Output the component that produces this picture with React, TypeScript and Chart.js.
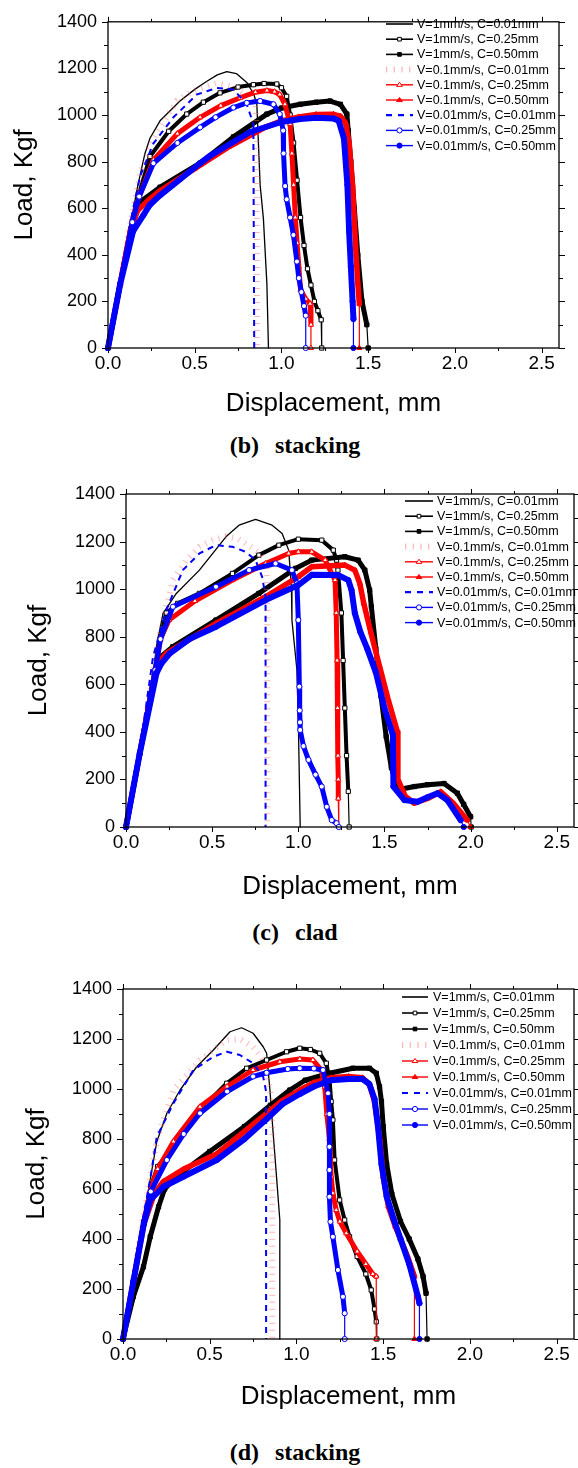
import React, { useEffect, useRef } from 'react';
import { Chart, registerables } from 'chart.js';

Chart.register(...registerables);

type Pt = [number, number];

const SERIES_LABELS = [
  'V=1mm/s, C=0.01mm',
  'V=1mm/s, C=0.25mm',
  'V=1mm/s, C=0.50mm',
  'V=0.1mm/s, C=0.01mm',
  'V=0.1mm/s, C=0.25mm',
  'V=0.1mm/s, C=0.50mm',
  'V=0.01mm/s, C=0.01mm',
  'V=0.01mm/s, C=0.25mm',
  'V=0.01mm/s, C=0.50mm',
];
const X_TICK_VALUES = [0, 0.5, 1, 1.5, 2, 2.5];
const Y_TICK_VALUES = [0, 200, 400, 600, 800, 1000, 1200, 1400];
const X_MAX = 2.6;
const Y_MAX = 1400;
const X_TITLE = 'Displacement, mm';
const Y_TITLE = 'Load, Kgf';

// ---------- panel (b) stacking ----------
const B_S1: Pt[] = [[0,0],[0.07,280],[0.137,560],[0.17,690],[0.213,835],[0.242,900],[0.3,975],[0.415,1060],[0.5,1110],[0.57,1145],[0.63,1172],[0.685,1186],[0.74,1178],[0.8,1140],[0.84,1090],[0.858,1046],[0.866,900],[0.877,700],[0.896,554],[0.916,274],[0.925,0]];
const B_S2: Pt[] = [[0,0],[0.07,275],[0.14,545],[0.18,665],[0.242,822],[0.35,930],[0.454,1004],[0.55,1055],[0.646,1095],[0.75,1120],[0.838,1130],[0.9,1135],[0.973,1133],[1.0,1117],[1.03,1080],[1.05,1000],[1.07,880],[1.09,720],[1.11,560],[1.13,440],[1.15,340],[1.17,270],[1.19,200],[1.21,160],[1.229,121],[1.232,0]];
const B_S3: Pt[] = [[0,0],[0.07,275],[0.13,510],[0.16,590],[0.2,635],[0.3,690],[0.53,793],[0.723,906],[0.916,1004],[1.0,1030],[1.108,1046],[1.2,1055],[1.28,1060],[1.34,1046],[1.377,1004],[1.385,933],[1.4,800],[1.42,600],[1.44,400],[1.464,202],[1.492,100],[1.5,0]];
const B_S4: Pt[] = [[0,0],[0.07,280],[0.14,580],[0.185,750],[0.26,895],[0.4,1063],[0.5,1105],[0.627,1137],[0.7,1125],[0.8,1088],[0.85,1040],[0.858,900],[0.858,0]];
const B_S5: Pt[] = [[0,0],[0.07,275],[0.14,545],[0.18,650],[0.262,807],[0.4,920],[0.531,990],[0.65,1040],[0.762,1074],[0.85,1098],[0.916,1105],[0.96,1100],[0.99,1088],[1.02,1046],[1.05,962],[1.06,835],[1.07,700],[1.08,560],[1.09,450],[1.1,350],[1.11,250],[1.14,210],[1.165,190],[1.17,100],[1.17,0]];
const B_S6: Pt[] = [[0,0],[0.07,275],[0.13,505],[0.17,590],[0.242,640],[0.3,675],[0.5,770],[0.7,865],[0.9,945],[1.0,975],[1.1,992],[1.2,1002],[1.3,1003],[1.34,995],[1.37,965],[1.39,880],[1.41,700],[1.42,550],[1.43,400],[1.44,280],[1.449,190],[1.449,0]];
const B_S7: Pt[] = [[0,0],[0.07,280],[0.14,580],[0.185,737],[0.261,877],[0.377,990],[0.512,1088],[0.627,1116],[0.723,1109],[0.8,1046],[0.838,962],[0.843,0]];
const B_S8: Pt[] = [[0,0],[0.07,273],[0.14,540],[0.18,650],[0.262,793],[0.4,880],[0.531,947],[0.62,990],[0.723,1032],[0.8,1052],[0.877,1060],[0.954,1046],[0.99,1004],[1.01,933],[1.012,835],[1.021,695],[1.03,638],[1.05,560],[1.069,485],[1.089,371],[1.1,300],[1.115,240],[1.13,180],[1.14,139],[1.14,0]];
const B_S9: Pt[] = [[0,0],[0.07,273],[0.144,500],[0.204,570],[0.242,615],[0.3,655],[0.531,793],[0.589,825],[0.819,927],[1.0,970],[1.108,983],[1.2,988],[1.3,985],[1.33,975],[1.36,900],[1.38,700],[1.39,500],[1.4,350],[1.41,200],[1.415,125],[1.415,0]];

// ---------- panel (c) clad ----------
const C_S1: Pt[] = [[0,0],[0.08,310],[0.15,600],[0.177,760],[0.215,898],[0.292,982],[0.426,1080],[0.58,1220],[0.656,1269],[0.752,1293],[0.848,1269],[0.906,1234],[0.944,1164],[0.96,1010],[0.963,870],[0.992,660],[1.0,450],[1.011,0]];
const C_S2: Pt[] = [[0,0],[0.08,310],[0.17,660],[0.2,800],[0.234,900],[0.3,940],[0.426,982],[0.618,1066],[0.771,1143],[0.887,1185],[1.0,1210],[1.136,1206],[1.203,1164],[1.222,1122],[1.23,1080],[1.25,900],[1.26,700],[1.27,500],[1.28,300],[1.29,150],[1.295,0]];
const C_S3: Pt[] = [[0,0],[0.08,310],[0.17,660],[0.2,715],[0.272,758],[0.522,870],[0.771,982],[0.983,1087],[1.078,1122],[1.27,1136],[1.347,1122],[1.386,1080],[1.414,996],[1.424,926],[1.45,750],[1.48,550],[1.51,380],[1.54,250],[1.57,180],[1.6,160],[1.674,170],[1.75,178],[1.846,183],[1.923,142],[1.96,95],[2.0,43],[2.003,0]];
const C_S4: Pt[] = [[0,0],[0.08,320],[0.15,620],[0.2,820],[0.272,1038],[0.35,1120],[0.426,1178],[0.5,1205],[0.58,1222],[0.65,1212],[0.72,1180],[0.78,1150],[0.815,1100],[0.82,900],[0.82,0]];
const C_S5: Pt[] = [[0,0],[0.08,310],[0.17,660],[0.2,790],[0.25,870],[0.4,950],[0.618,1038],[0.81,1108],[0.944,1150],[1.0,1157],[1.078,1157],[1.156,1122],[1.194,1066],[1.213,1038],[1.22,900],[1.225,700],[1.228,500],[1.23,300],[1.232,200],[1.232,120],[1.235,0]];
const C_S6: Pt[] = [[0,0],[0.08,310],[0.17,655],[0.2,700],[0.234,730],[0.522,856],[0.81,968],[1.0,1052],[1.078,1094],[1.27,1101],[1.328,1080],[1.357,1024],[1.38,940],[1.42,820],[1.47,680],[1.52,540],[1.575,400],[1.578,200],[1.62,130],[1.674,100],[1.75,120],[1.827,148],[1.9,100],[1.98,29],[2.0,0]];
const C_S7: Pt[] = [[0,0],[0.08,320],[0.157,716],[0.234,912],[0.33,1080],[0.426,1150],[0.522,1185],[0.618,1178],[0.695,1157],[0.752,1122],[0.79,1052],[0.81,968],[0.81,0]];
const C_S8: Pt[] = [[0,0],[0.08,310],[0.17,660],[0.2,790],[0.272,926],[0.522,1010],[0.714,1080],[0.868,1108],[0.963,1080],[0.992,1024],[1.0,870],[1.006,590],[1.008,490],[1.01,440],[1.011,408],[1.03,340],[1.059,282],[1.1,220],[1.136,170],[1.165,85],[1.194,29],[1.222,16],[1.235,0]];
const C_S9: Pt[] = [[0,0],[0.08,310],[0.177,647],[0.205,687],[0.253,729],[0.368,790],[0.522,842],[0.81,954],[1.0,1017],[1.078,1060],[1.232,1059],[1.29,1038],[1.309,996],[1.328,899],[1.36,820],[1.4,750],[1.45,650],[1.5,500],[1.549,387],[1.552,170],[1.616,113],[1.692,106],[1.75,125],[1.808,142],[1.865,113],[1.942,29],[1.96,0]];

// ---------- panel (d) stacking ----------
const D_S1: Pt[] = [[0,0],[0.06,240],[0.12,490],[0.16,650],[0.195,790],[0.253,903],[0.329,996],[0.425,1089],[0.521,1156],[0.617,1229],[0.684,1245],[0.75,1223],[0.808,1169],[0.828,1143],[0.847,996],[0.866,820],[0.885,649],[0.904,476],[0.904,0]];
const D_S2: Pt[] = [[0,0],[0.06,235],[0.12,470],[0.16,610],[0.2,690],[0.291,769],[0.368,849],[0.483,943],[0.598,1023],[0.713,1083],[0.828,1116],[0.943,1149],[1.019,1163],[1.08,1158],[1.134,1143],[1.172,1103],[1.191,1036],[1.2,950],[1.21,876],[1.22,716],[1.249,556],[1.278,476],[1.306,409],[1.35,330],[1.4,260],[1.431,196],[1.45,120],[1.46,69],[1.463,0]];
const D_S3: Pt[] = [[0,0],[0.06,170],[0.118,289],[0.157,409],[0.205,529],[0.24,600],[0.3,645],[0.5,750],[0.7,850],[0.85,935],[0.962,996],[1.05,1035],[1.191,1063],[1.325,1083],[1.421,1083],[1.46,1063],[1.479,1009],[1.49,950],[1.5,850],[1.52,700],[1.55,580],[1.6,470],[1.65,400],[1.7,320],[1.73,250],[1.747,183],[1.753,0]];
const D_S4: Pt[] = [[0,0],[0.06,245],[0.12,500],[0.16,660],[0.2,810],[0.291,996],[0.444,1116],[0.598,1196],[0.675,1200],[0.75,1169],[0.808,1116],[0.828,1049],[0.85,1000],[0.86,900],[0.86,0]];
const D_S5: Pt[] = [[0,0],[0.06,230],[0.12,470],[0.16,600],[0.2,680],[0.291,790],[0.444,929],[0.6,1010],[0.75,1076],[0.904,1109],[1.019,1120],[1.095,1116],[1.144,1076],[1.163,1009],[1.175,900],[1.19,800],[1.2,650],[1.21,583],[1.229,516],[1.25,470],[1.287,423],[1.35,350],[1.4,300],[1.44,260],[1.46,250],[1.46,0]];
const D_S6: Pt[] = [[0,0],[0.06,230],[0.12,460],[0.18,580],[0.233,630],[0.35,680],[0.54,740],[0.7,830],[0.828,903],[0.92,955],[1.019,996],[1.1,1025],[1.2,1045],[1.3,1050],[1.38,1045],[1.42,1020],[1.45,950],[1.48,800],[1.5,650],[1.53,530],[1.57,450],[1.6,400],[1.64,330],[1.67,270],[1.68,250],[1.68,0]];
const D_S7: Pt[] = [[0,0],[0.06,245],[0.12,500],[0.157,640],[0.195,809],[0.291,943],[0.406,1076],[0.521,1129],[0.598,1149],[0.674,1136],[0.75,1103],[0.808,1049],[0.825,990],[0.825,0]];
const D_S8: Pt[] = [[0,0],[0.06,230],[0.12,465],[0.16,590],[0.253,716],[0.35,820],[0.444,903],[0.6,990],[0.75,1050],[0.828,1065],[0.95,1080],[1.019,1083],[1.1,1082],[1.153,1076],[1.182,983],[1.19,900],[1.19,769],[1.19,676],[1.19,569],[1.196,469],[1.21,409],[1.239,276],[1.268,169],[1.278,103],[1.278,0]];
const D_S9: Pt[] = [[0,0],[0.06,230],[0.12,460],[0.157,556],[0.233,609],[0.35,650],[0.54,716],[0.7,800],[0.828,880],[0.92,940],[1.019,980],[1.1,1010],[1.2,1035],[1.3,1040],[1.38,1040],[1.42,1020],[1.45,960],[1.47,850],[1.49,700],[1.52,570],[1.56,480],[1.6,400],[1.65,300],[1.7,170],[1.709,143],[1.709,0]];

const PANEL_B_DATA = [B_S1, B_S2, B_S3, B_S4, B_S5, B_S6, B_S7, B_S8, B_S9];
const PANEL_C_DATA = [C_S1, C_S2, C_S3, C_S4, C_S5, C_S6, C_S7, C_S8, C_S9];
const PANEL_D_DATA = [D_S1, D_S2, D_S3, D_S4, D_S5, D_S6, D_S7, D_S8, D_S9];

// ---------- styles ----------
type Style = {
  color: string; width: number; dash?: number[]; cap?: CanvasLineCap;
  point?: 'rect' | 'triangle' | 'circle'; fill?: string; radius?: number;
  legendWidth: number; legendDash?: number[];
};
const STYLES: Style[] = [
  { color: '#000000', width: 1.3, legendWidth: 1.6 },
  { color: '#000000', width: 4, point: 'rect', fill: '#ffffff', radius: 3, legendWidth: 1.6 },
  { color: '#000000', width: 5, point: 'rect', fill: '#000000', radius: 3, legendWidth: 1.6 },
  { color: 'rgba(255,110,110,0.5)', width: 6, dash: [1, 6], cap: 'butt', legendWidth: 6, legendDash: [1.2, 6.5] },
  { color: '#ff0000', width: 5, point: 'triangle', fill: '#ffffff', radius: 3, legendWidth: 1.4 },
  { color: '#ff0000', width: 5.5, point: 'triangle', fill: '#ff0000', radius: 3, legendWidth: 1.4 },
  { color: '#0000ff', width: 2, dash: [6, 5], cap: 'butt', legendWidth: 2.2, legendDash: [6, 6] },
  { color: '#0000ff', width: 5, point: 'circle', fill: '#ffffff', radius: 2.6, legendWidth: 1.4 },
  { color: '#0000ff', width: 6, point: 'circle', fill: '#0000ff', radius: 2.6, legendWidth: 1.4 },
];

const SANS = "'Liberation Sans', Arial, sans-serif";

type PanelCfg = {
  top: number; height: number;
  plot: { left: number; right: number; top: number; bottom: number };
  yTitleX: number; xTitleY: number;
  legend: { x0: number; x1: number; tx: number; y0: number; dy: number };
  data: Pt[][];
  caption: [string, string]; captionY: number;
};

const PANELS: PanelCfg[] = [
  { top: 0, height: 430, plot: { left: 108, right: 559, top: 16, bottom: 348 }, yTitleX: 25, xTitleY: 404,
    legend: { x0: 386, x1: 413, tx: 417, y0: 24, dy: 15.2 }, data: PANEL_B_DATA, caption: ['(b)', 'stacking'], captionY: 445 },
  { top: 470, height: 440, plot: { left: 126, right: 577, top: 24, bottom: 357 }, yTitleX: 39, xTitleY: 417,
    legend: { x0: 405, x1: 433, tx: 437, y0: 31, dy: 15.2 }, data: PANEL_C_DATA, caption: ['(c)', 'clad'], captionY: 932 },
  { top: 960, height: 460, plot: { left: 123, right: 575, top: 29, bottom: 379 }, yTitleX: 37, xTitleY: 437,
    legend: { x0: 402, x1: 428, tx: 433, y0: 37, dy: 16 }, data: PANEL_D_DATA, caption: ['(d)', 'stacking'], captionY: 1452 },
];

function drawMarker(ctx: CanvasRenderingContext2D, kind: string, x: number, y: number, r: number, fill: string, stroke: string) {
  ctx.beginPath();
  if (kind === 'rect') {
    const s = r * Math.SQRT1_2;
    ctx.rect(x - s, y - s, 2 * s, 2 * s);
  } else if (kind === 'triangle') {
    const h = r * 1.5;
    ctx.moveTo(x, y - h * 0.66);
    ctx.lineTo(x + r * 1.1, y + h * 0.4);
    ctx.lineTo(x - r * 1.1, y + h * 0.4);
    ctx.closePath();
  } else {
    ctx.arc(x, y, r, 0, Math.PI * 2);
  }
  ctx.fillStyle = fill;
  ctx.fill();
  ctx.lineWidth = 1;
  ctx.strokeStyle = stroke;
  ctx.setLineDash([]);
  ctx.stroke();
}

const decorPlugin = {
  id: 'panelDecor',
  afterDatasetsDraw(chart: any, _args: any, opts: any) {
    const { ctx, chartArea: a, scales } = chart;
    const xs = scales.x;
    const ys = scales.y;
    ctx.save();
    ctx.strokeStyle = '#000';
    ctx.lineWidth = 1.3;
    ctx.setLineDash([]);
    ctx.strokeRect(a.left, a.top, a.right - a.left, a.bottom - a.top);
    ctx.lineWidth = 1;
    ctx.beginPath();
    for (let i = 0; i <= 10; i++) {
      const v = i * 0.25;
      const px = Math.round(xs.getPixelForValue(v)) + 0.5;
      const L = i % 2 === 0 ? 5 : 3;
      ctx.moveTo(px, a.bottom); ctx.lineTo(px, a.bottom + L);
      ctx.moveTo(px, a.top); ctx.lineTo(px, a.top - L);
    }
    for (let v = 0; v <= Y_MAX; v += 100) {
      const py = Math.round(ys.getPixelForValue(v)) + 0.5;
      const L = v % 200 === 0 ? 6 : 4;
      ctx.moveTo(a.left, py); ctx.lineTo(a.left - L, py);
      ctx.moveTo(a.right, py); ctx.lineTo(a.right + L, py);
    }
    ctx.stroke();

    // legend
    const lg = opts.legend;
    ctx.font = `12.5px ${SANS}`;
    ctx.textBaseline = 'middle';
    ctx.textAlign = 'left';
    SERIES_LABELS.forEach((label: string, i: number) => {
      const s = STYLES[i];
      const y = lg.y0 + i * lg.dy;
      ctx.beginPath();
      ctx.strokeStyle = s.color;
      ctx.lineWidth = s.legendWidth;
      ctx.lineCap = 'butt';
      ctx.setLineDash(s.legendDash ?? []);
      ctx.moveTo(lg.x0, y);
      ctx.lineTo(lg.x1, y);
      ctx.stroke();
      ctx.setLineDash([]);
      if (s.point) drawMarker(ctx, s.point, (lg.x0 + lg.x1) / 2, y, 2.6, s.fill!, s.color);
      ctx.fillStyle = '#000';
      ctx.fillText(label, lg.tx, y + 0.5);
    });
    ctx.restore();
  },
};

function buildDatasets(series: Pt[][]) {
  return series.map((pts, i) => {
    const s = STYLES[i];
    const n = pts.length;
    const ds: any = {
      label: SERIES_LABELS[i],
      data: pts.map(([x, y]) => ({ x, y })),
      borderColor: s.color,
      backgroundColor: s.color,
      borderWidth: s.width,
      borderDash: s.dash ?? [],
      borderCapStyle: s.cap ?? 'round',
      borderJoinStyle: 'round',
      pointStyle: s.point ?? 'circle',
      pointRadius: s.point ? s.radius : 0,
      pointHoverRadius: 0,
      pointBackgroundColor: s.fill ?? s.color,
      pointBorderColor: s.color,
      pointBorderWidth: 1,
      tension: 0,
      fill: false,
      clip: false,
      order: 9 - i,
    };
    if (s.point) {
      ds.segment = { borderWidth: (c: any) => (c.p1DataIndex === n - 1 ? 1.2 : undefined) };
    }
    return ds;
  });
}

function Panel({ cfg }: { cfg: PanelCfg }) {
  const ref = useRef<HTMLCanvasElement | null>(null);
  useEffect(() => {
    const W = 578;
    const p = cfg.plot;
    const titleLH = 26 * 1.2;
    const chart = new Chart(ref.current!, {
      type: 'line',
      data: { datasets: buildDatasets(cfg.data) },
      plugins: [decorPlugin],
      options: {
        responsive: false,
        animation: false,
        devicePixelRatio: 1,
        events: [],
        layout: { padding: { top: p.top, right: W - p.right, left: 0, bottom: 0 } },
        plugins: {
          legend: { display: false },
          tooltip: { enabled: false },
          panelDecor: { legend: cfg.legend },
        } as any,
        scales: {
          x: {
            type: 'linear', min: 0, max: X_MAX,
            afterBuildTicks: (sc: any) => { sc.ticks = X_TICK_VALUES.map((v) => ({ value: v })); },
            afterFit: (sc: any) => { sc.height = cfg.height - p.bottom; },
            grid: { display: false, drawTicks: false },
            border: { display: false },
            ticks: {
              autoSkip: false, maxRotation: 0, padding: 4, color: '#000',
              font: { family: SANS, size: 19 },
              callback: (v: any) => Number(v).toFixed(1),
            },
            title: {
              display: true, text: X_TITLE, color: '#000',
              font: { family: SANS, size: 26 },
              padding: { top: 0, bottom: cfg.height - cfg.xTitleY - titleLH / 2 },
            },
          },
          y: {
            type: 'linear', min: 0, max: Y_MAX,
            afterBuildTicks: (sc: any) => { sc.ticks = Y_TICK_VALUES.map((v) => ({ value: v })); },
            afterFit: (sc: any) => { sc.width = p.left; },
            grid: { display: false, drawTicks: false },
            border: { display: false },
            ticks: {
              autoSkip: false, padding: 11, color: '#000',
              font: { family: SANS, size: 18 },
              callback: (v: any) => String(v),
            },
            title: {
              display: true, text: Y_TITLE, color: '#000',
              font: { family: SANS, size: 26 },
              padding: { top: cfg.yTitleX - titleLH / 2, bottom: 0 },
            },
          },
        },
      } as any,
    });
    return () => chart.destroy();
  }, [cfg]);
  return (
    <canvas
      ref={ref}
      width={578}
      height={cfg.height}
      style={{ position: 'absolute', left: 0, top: cfg.top, width: 578, height: cfg.height }}
    />
  );
}

export default function App() {
  return (
    <div style={{ position: 'absolute', left: 0, top: 0, width: 578, height: 1468, background: '#fff', overflow: 'hidden' }}>
      {PANELS.map((cfg, i) => (
        <React.Fragment key={i}>
          <Panel cfg={cfg} />
          <div
            style={{
              position: 'absolute', left: 0, top: cfg.captionY - 15, width: 590, height: 30,
              textAlign: 'center', lineHeight: '30px', fontFamily: "'Liberation Serif', 'Times New Roman', serif",
              fontWeight: 'bold', fontSize: 24, color: '#000', whiteSpace: 'pre',
            }}
          >
            {cfg.caption[0]}
            <span style={{ marginLeft: 16 }}>{cfg.caption[1]}</span>
          </div>
        </React.Fragment>
      ))}
    </div>
  );
}
